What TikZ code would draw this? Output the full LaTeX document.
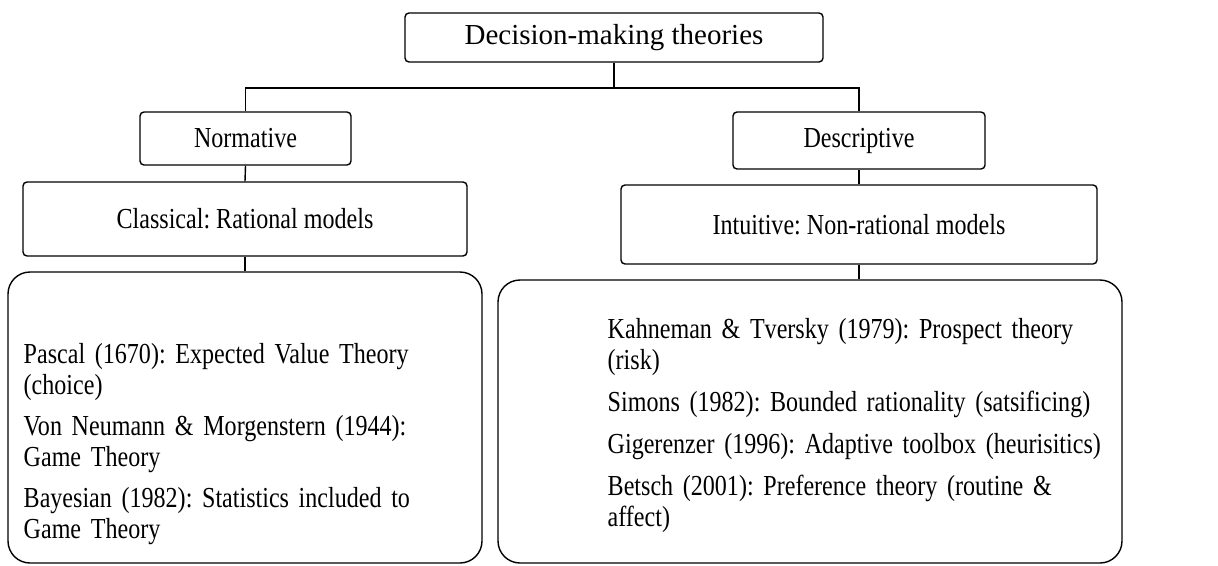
\documentclass[tikz,border=0pt]{standalone}
\usepackage{fontspec}
\setmainfont{Liberation Serif}
\newfontfamily\narrowserif{Liberation Serif}[FakeStretch=0.83]
\frenchspacing
\begin{document}
\begin{tikzpicture}[x=1pt,y=-1pt,
  line width=1.4pt,
  box/.style={draw, rounded corners=4pt, inner sep=0pt, align=center,
    font=\narrowserif\fontsize{29}{31}\selectfont},
  bigbox/.style={draw, rounded corners=22pt, inner sep=0pt},
  entries/.style={anchor=base west, inner sep=0pt, align=left,
    font=\narrowserif\fontsize{29}{31}\selectfont}]
\useasboundingbox (0,0) rectangle (1218,565);

% title and the two branches
\node[box, minimum width=418pt, minimum height=49pt,
  font=\fontsize{29}{31}\selectfont] (top) at (614,37.5) {Decision-making theories};
\node[box, minimum width=211pt, minimum height=53pt] (norm) at (245.5,138.5) {Normative};
\node[box, minimum width=252pt, minimum height=57pt] (desc) at (859,140.5) {Descriptive};
\node[box, minimum width=444pt, minimum height=74pt] (class) at (245,219) {Classical: Rational models};
\node[box, minimum width=476pt, minimum height=79pt] (intu) at (859,224.5) {Intuitive: Non-rational models};

% boxes holding the lists of theories
\node[bigbox, minimum width=474pt, minimum height=291pt] (lbig) at (245,417.5) {};
\node[bigbox, minimum width=624pt, minimum height=283pt] (rbig) at (810,421.5) {};

\node[entries, text width=455pt] (ltext) at (23,363)
  {Pascal (1670): Expected Value Theory\\(choice)\\[10pt]
   Von Neumann \& Morgenstern (1944):\\Game Theory\\[10pt]
   Bayesian (1982): Statistics included to\\Game Theory};
\node[entries, text width=510pt] (rtext) at (607,338)
  {Kahneman \& Tversky (1979): Prospect theory\\(risk)\\[11pt]
   Simons (1982): Bounded rationality (satsificing)\\[11pt]
   Gigerenzer (1996): Adaptive toolbox (heurisitics)\\[11pt]
   Betsch (2001): Preference theory (routine \&\\affect)};

% connectors
\coordinate (bus) at (614,88);
\draw (top.south) -- (bus);
\draw (norm.north) |- (bus) -| (desc.north);
\draw (norm.south) -- (class.north);
\draw (desc.south) -- (intu.north);
\draw (class.south) -- (class.south |- lbig.north);
\draw (intu.south) -- (intu.south |- rbig.north);
\end{tikzpicture}
\end{document}
